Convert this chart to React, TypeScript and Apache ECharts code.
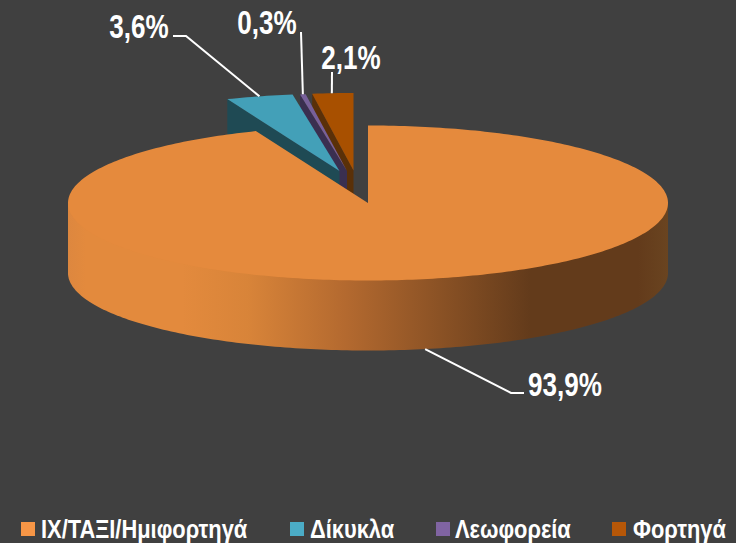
import React, { useEffect, useRef } from "react";
import * as echarts from "echarts";

const categories = ["ΙΧ/ΤΑΞΙ/Ημιφορτηγά", "Δίκυκλα", "Λεωφορεία", "Φορτηγά"];
const values = [93.9, 3.6, 0.3, 2.1];
const legendColors = ["#F79646", "#4BACC6", "#8064A2", "#B65708"];
const topColors = ["#E58A3D", "#43A0B8", "#77609A", "#A85000"];
const sideColors = ["#E58A3D", "#1F4A54", "#3A2F50", "#5A3008"];
const centers = [[368, 203], [339.5, 171], [347, 171], [353.5, 170.5]];
const elbows = [[[511, 393], [524, 393]], [[186, 36], [173, 36]], [[301, 32]], [[332, 72]]];
const labelSpots = [[565, 384], [139, 26], [267, 22], [351, 57]];
const legendIconX = [21, 290, 436, 612];
const legendTextX = [41, 310, 455, 633];

const RX = 300;
const RY = 77.5;
const DEPTH = 70;
const FONT = '"Liberation Sans", Arial, sans-serif';
const total = 100;

function startFraction(i: number) {
  let s = 0;
  for (let k = 0; k < i; k++) s += values[k];
  return s / total;
}

function rimPoint(c: number[], frac: number, dy = 0) {
  const a = frac * Math.PI * 2;
  return [c[0] + RX * Math.sin(a), c[1] - RY * Math.cos(a) + dy];
}

function arcPoints(c: number[], f0: number, f1: number, dy = 0) {
  const n = Math.max(2, Math.ceil(Math.abs(f1 - f0) * 360));
  const pts: number[][] = [];
  for (let k = 0; k <= n; k++) pts.push(rimPoint(c, f0 + ((f1 - f0) * k) / n, dy));
  return pts;
}

function makeRenderItem(i: number) {
  return () => {
    const c = centers[i];
    const f0 = startFraction(i);
    const f1 = i === categories.length - 1 ? 1 : startFraction(i + 1);
    const fm = f0 + values[i] / total / 2;
    const children: any[] = [];
    if (i === 0) {
      const lo = Math.max(f0, 0.25);
      const hi = Math.min(f1, 0.75);
      const pts = [rimPoint(c, lo), rimPoint(c, hi)].concat(arcPoints(c, hi, lo, DEPTH));
      children.push({
        type: "polygon",
        shape: { points: pts },
        style: {
          fill: new echarts.graphic.LinearGradient(0, 0, 1, 0, [
            { offset: 0, color: "#DD873F" },
            { offset: 0.03, color: "#E38A3D" },
            { offset: 0.19, color: "#E38A3D" },
            { offset: 0.3, color: "#D88439" },
            { offset: 0.465, color: "#B3692F" },
            { offset: 0.77, color: "#633B1B" },
            { offset: 0.95, color: "#633B1B" },
            { offset: 1, color: "#6A4420" },
          ]),
        },
      });
    } else {
      const a = rimPoint(c, f0);
      children.push({
        type: "polygon",
        shape: { points: [a, c, [c[0], c[1] + DEPTH], [a[0], a[1] + DEPTH]] },
        style: { fill: sideColors[i] },
      });
    }
    children.push({
      type: "polygon",
      shape: { points: [c].concat(arcPoints(c, f0, f1)) },
      style: { fill: topColors[i] },
    });
    const anchor = rimPoint(c, fm, fm > 0.25 && fm < 0.75 ? DEPTH : 0);
    children.push({
      type: "polyline",
      shape: { points: [anchor].concat(elbows[i]) },
      style: { stroke: "#FFFFFF", lineWidth: 2, fill: "none" },
    });
    children.push({
      type: "text",
      x: labelSpots[i][0],
      y: labelSpots[i][1],
      scaleX: 0.79,
      style: {
        text: values[i].toFixed(1).replace(".", ",") + "%",
        fill: "#FFFFFF",
        font: `bold 33px ${FONT}`,
        textAlign: "center",
        textVerticalAlign: "middle",
      },
    });
    return { type: "group", children };
  };
}

export default function App() {
  const ref = useRef<HTMLDivElement>(null);
  useEffect(() => {
    const chart = echarts.init(ref.current!, null, { renderer: "svg" });
    const drawOrder = [3, 2, 1, 0];
    const legendItems: any[] = [];
    categories.forEach((name, i) => {
      legendItems.push({
        type: "rect",
        shape: { x: legendIconX[i], y: 522, width: 14, height: 14 },
        style: { fill: legendColors[i] },
      });
      legendItems.push({
        type: "text",
        x: legendTextX[i],
        y: 528.5,
        scaleX: 0.825,
        style: {
          text: name,
          fill: "#FFFFFF",
          font: `bold 26.5px ${FONT}`,
          textAlign: "left",
          textVerticalAlign: "middle",
        },
      });
    });
    chart.setOption({
      animation: false,
      backgroundColor: "#404040",
      graphic: legendItems,
      series: drawOrder.map((i) => ({
        type: "custom",
        name: categories[i],
        coordinateSystem: "none",
        itemStyle: { color: legendColors[i] },
        data: [[values[i]]],
        renderItem: makeRenderItem(i),
      })),
    });
    return () => chart.dispose();
  }, []);
  return <div ref={ref} style={{ position: "fixed", left: 0, top: 0, width: 736, height: 543 }} />;
}
